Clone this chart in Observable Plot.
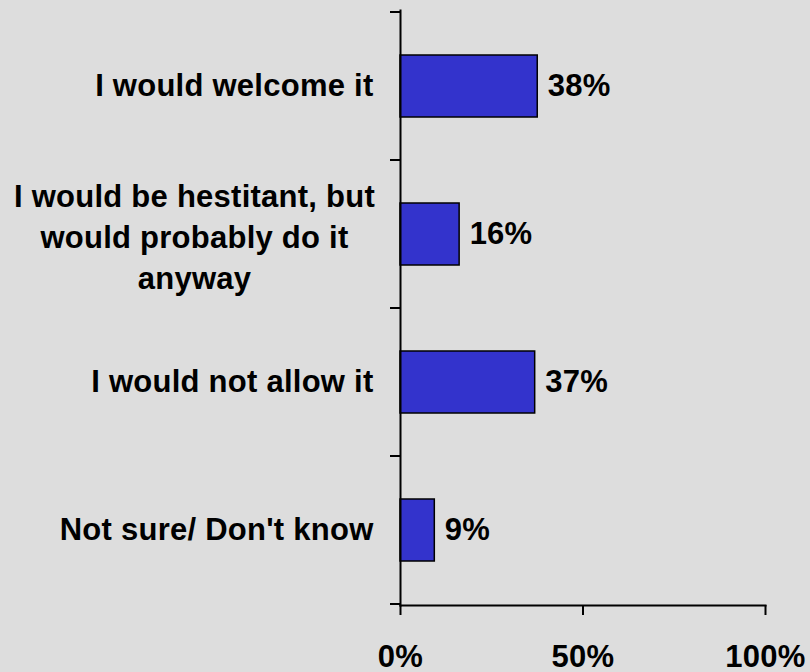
<!DOCTYPE html>
<html><head><meta charset="utf-8">
<script src="https://cdn.jsdelivr.net/npm/d3@7"></script>
<script src="https://cdn.jsdelivr.net/npm/@observablehq/plot@0.6"></script>
<style>
html,body{margin:0;padding:0;background:#dddddd;}
#chart svg{display:block;}
</style></head><body><div id="chart"></div>
<script>
const categories = ["I would welcome it", "I would be hestitant, but would probably do it anyway", "I would not allow it", "Not sure/ Don't know"];
const categoryLabels = ["I would welcome it", "I would be hestitant, but\nwould probably do it\nanyway", "I would not allow it", "Not sure/ Don't know"];
const values = [37.6, 16.2, 36.9, 9.4];
const xTicks = [0, 50, 100];
const xTickLabels = ["0%", "50%", "100%"];

const data = categories.map((c, i) => ({category: c, label: categoryLabels[i], value: values[i]}));
const single = data.filter(d => !d.label.includes("\n"));
const multi = data.filter(d => d.label.includes("\n"));

function boundaryTicks(index, scales, vals, dims) {
  const y = scales.y;
  const n = categories.length;
  let top, step;
  if (y && y.step && y.bandwidth) {
    step = y.step();
    top = y(categories[0]) - (step - y.bandwidth()) / 2;
  } else {
    top = dims.marginTop;
    step = (dims.height - dims.marginTop - dims.marginBottom) / n;
  }
  const g = d3.create("svg:g");
  for (let i = 0; i <= n; i++) {
    const yy = top + i * step;
    g.append("line")
      .attr("x1", dims.marginLeft - 10).attr("x2", dims.marginLeft)
      .attr("y1", yy).attr("y2", yy)
      .attr("stroke", "black").attr("stroke-width", 2);
  }
  return g.node();
}

const chart = Plot.plot({
  width: 810,
  height: 672,
  marginLeft: 400,
  marginRight: 45,
  marginTop: 10,
  marginBottom: 67,
  style: {background: "#dddddd", fontFamily: "'Liberation Sans', Arial, sans-serif", fontSize: "31px", fontWeight: "bold", color: "black", letterSpacing: "0.25px"},
  x: {domain: [0, 100], label: null},
  y: {domain: categories, paddingInner: 0.583, paddingOuter: 0.2915, axis: null},
  marks: [
    Plot.barX(data, {x: "value", y: "category", fill: "#3333cc", stroke: "black", strokeWidth: 1.5}),
    Plot.frame({anchor: "left", stroke: "black", strokeWidth: 2}),
    Plot.frame({anchor: "bottom", stroke: "black", strokeWidth: 2}),
    boundaryTicks,
    Plot.axisX(xTicks, {label: null, tickSize: 10, tickPadding: 29, strokeWidth: 2, fontSize: 31, fontWeight: "bold", fill: "black",
      tickFormat: d => xTickLabels[xTicks.indexOf(d)]}),
    Plot.text(single, {y: "category", text: "label", frameAnchor: "left", textAnchor: "end", dx: -27, fontSize: 31, fontWeight: "bold", fill: "black"}),
    Plot.text(multi, {y: "category", text: "label", frameAnchor: "left", textAnchor: "middle", dx: -206, lineHeight: 1.32, fontSize: 31, fontWeight: "bold", fill: "black"}),
    Plot.text(data, {x: "value", y: "category", text: d => Math.round(d.value) + "%", textAnchor: "start", dx: 10, fontSize: 31, fontWeight: "bold", fill: "black"})
  ]
});
document.getElementById("chart").appendChild(chart);
</script>
</body></html>
